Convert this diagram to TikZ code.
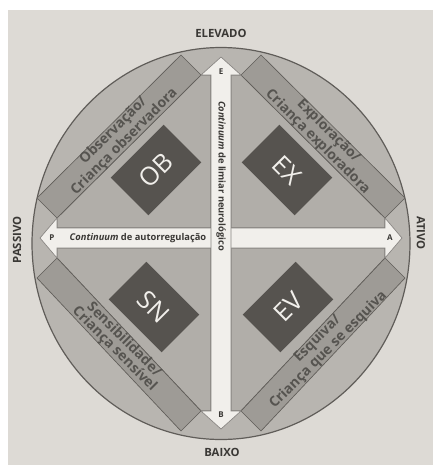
\documentclass[tikz,border=0pt]{standalone}
\usepackage{fontspec}
\setmainfont{Open Sans}
\usepackage{tikz}

\definecolor{paper}{RGB}{221,218,213}
\definecolor{disc}{RGB}{184,181,176}
\definecolor{quad}{RGB}{177,174,169}
\definecolor{band}{RGB}{158,155,150}
\definecolor{tilefill}{RGB}{86,83,79}
\definecolor{shaft}{RGB}{241,239,235}
\definecolor{ink}{RGB}{58,56,53}
\definecolor{rim}{RGB}{96,93,89}

\tikzset{
  quadrant/.style={draw=rim, line width=0.5pt, fill=quad},
  bandbox/.style={draw=rim, line width=0.5pt, fill=band},
  axisarrow/.style={draw=rim!75, line width=0.5pt, fill=shaft},
  bandtext/.style={font=\fontsize{10.5}{10}\selectfont\bfseries, text=rim!90!black, align=center, inner sep=0.75pt},
  quadtile/.style={fill=tilefill, text=shaft, minimum width=56pt, minimum height=40pt, inner sep=0pt, font=\fontsize{19}{19}\selectfont},
  axislabel/.style={font=\fontsize{8.5}{9}\selectfont\bfseries, text=ink, inner sep=0.75pt},
}

\begin{document}
\begin{tikzpicture}[x=0.75pt,y=0.75pt,yscale=-1,xscale=1]
\useasboundingbox (0,0) rectangle (433,465);

%Shape: Rectangle [photo edge]
\fill [white] (0,0) rectangle (433,465);
\fill [paper] (8,10) rectangle (433,465);
%Shape: Ellipse
\draw [draw=rim, line width=0.9pt, fill=disc] (221,243.5) ellipse [x radius=189, y radius=196];

%Shape: Polygon [upper left quadrant]
\draw [quadrant] (57,218) -- (201,75) -- (211,75) -- (211,228) -- (57,228) -- cycle ;
%Shape: Polygon [upper right quadrant]
\draw [quadrant] (241,75) -- (385,218) -- (385,228) -- (231,228) -- (231,75) -- cycle ;
%Shape: Polygon [lower left quadrant]
\draw [quadrant] (57,258) -- (201,411) -- (211,411) -- (211,248) -- (57,248) -- cycle ;
%Shape: Polygon [lower right quadrant]
\draw [quadrant] (241,411) -- (385,258) -- (385,248) -- (231,248) -- (231,411) -- cycle ;

%Shape: Rectangle [bands]
\draw [bandbox] (57,218) -- (201,75) -- (181,55) -- (37,198) -- cycle ;
\draw [bandbox] (241,75) -- (385,218) -- (405,198) -- (261,55) -- cycle ;
\draw [bandbox] (57,258) -- (201,411) -- (181,431) -- (37,278) -- cycle ;
\draw [bandbox] (241,411) -- (385,258) -- (405,278) -- (261,431) -- cycle ;

%Shape: Arrow [horizontal]
\draw [axisarrow] (40,238) -- (57,218) -- (57,228) -- (385,228) -- (385,218) -- (402,238) -- (385,258) -- (385,248) -- (57,248) -- (57,258) -- cycle ;
%Shape: Arrow [vertical]
\draw [axisarrow] (221,57) -- (241,75) -- (231,75) -- (231,411) -- (241,411) -- (221,429) -- (201,411) -- (211,411) -- (211,75) -- (201,75) -- cycle ;

% Text Node
\draw (156,170) node [quadtile, rotate=45] (ob) {OB};
% Text Node
\draw (287,170) node [quadtile, rotate=-45] (ex) {EX};
% Text Node
\draw (154,307) node [quadtile, rotate=-45] (sn) {SN};
% Text Node
\draw (288,307) node [quadtile, rotate=45] (ev) {EV};

% Text Node
\draw (119,136.5) node [bandtext, rotate=45] (obtext) {Observação/\\Criança observadora};
% Text Node
\draw (323,136.5) node [bandtext, rotate=-45] (extext) {Exploração/\\Criança exploradora};
% Text Node
\draw (119,344.5) node [bandtext, rotate=-45] (sntext) {Sensibilidade/\\Criança sensível};
% Text Node
\draw (323,344.5) node [bandtext, rotate=45] (evtext) {Esquiva/\\Criança que se esquiva};

% Text Node
\draw (138,238) node [font=\fontsize{7}{8}\selectfont\bfseries, text=ink, inner sep=0.75pt] (autoreg) {\textit{Continuum} de autorregulação};
% Text Node
\draw (221,176) node [font=\fontsize{7}{8}\selectfont\bfseries, text=ink, inner sep=0.75pt, rotate=-90] (limiar) {\textit{Continuum} de limiar neurológico};
% Text Node
\draw (221,72) node [font=\fontsize{6}{7}\selectfont\bfseries, text=ink] (e) {E};
% Text Node
\draw (221,415) node [font=\fontsize{6}{7}\selectfont\bfseries, text=ink] (b) {B};
% Text Node
\draw (52,238) node [font=\fontsize{6}{7}\selectfont\bfseries, text=ink] (p) {P};
% Text Node
\draw (390,238) node [font=\fontsize{6}{7}\selectfont\bfseries, text=ink] (a) {A};

% Text Node
\draw (221,33) node [axislabel] (elevado) {ELEVADO};
% Text Node
\draw (222,452) node [axislabel] (baixo) {BAIXO};
% Text Node
\draw (17,240) node [axislabel, rotate=90] (passivo) {PASSIVO};
% Text Node
\draw (421,233) node [axislabel, rotate=-90] (ativo) {ATIVO};

\end{tikzpicture}
\end{document}
